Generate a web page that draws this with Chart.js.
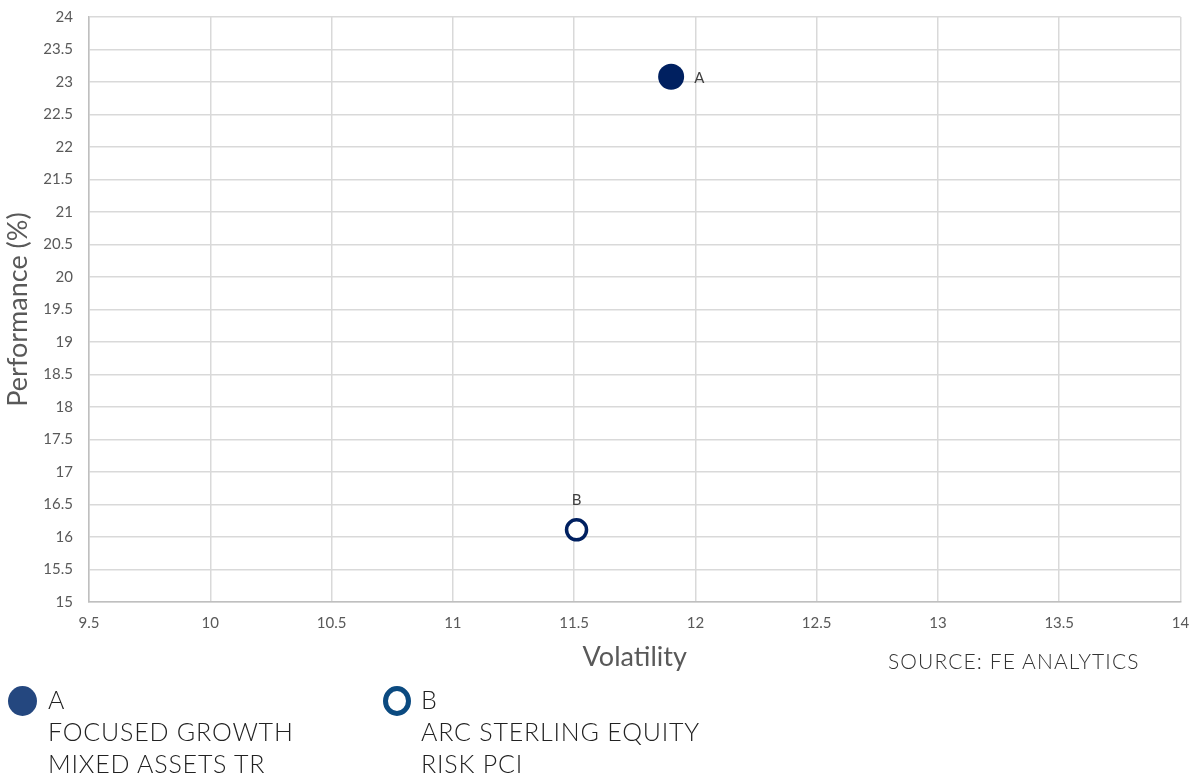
<!DOCTYPE html>
<html>
<head>
<meta charset="utf-8">
<script src="https://cdn.jsdelivr.net/npm/chart.js@4"></script>
<style>
  html, body { margin: 0; padding: 0; background: #fff; }
  body { width: 1194px; height: 776px; position: relative; overflow: hidden; font-family: Lato, "Open Sans", sans-serif; }
  #wrap { position: absolute; left: 0; top: 0; width: 1194px; height: 690px; }
  .source { position: absolute; left: 888px; top: 648px; font-size: 21px; font-weight: 300; letter-spacing: 1.1px; color: #333; }
  .leg { position: absolute; top: 683px; font-size: 25px; font-weight: 300; letter-spacing: 0.8px; color: #222; line-height: 32px; }
  .mark { position: absolute; top: 3px; width: 28px; height: 28px; border-radius: 50%; box-sizing: border-box; }
</style>
</head>
<body>
<div id="wrap"><canvas id="scatterChart"></canvas></div>
<div class="source">SOURCE: FE ANALYTICS</div>
<div class="leg" style="left:8px;">
  <div class="mark" style="left:0; background:#24477f; width:29px; height:30px;"></div>
  <div style="padding-left:40px;">A<br>FOCUSED GROWTH<br>MIXED ASSETS TR</div>
</div>
<div class="leg" style="left:383px;">
  <div class="mark" style="left:0; border:5px solid #0b4a80; background:#fff; width:28px; height:30px;"></div>
  <div style="padding-left:38px;">B<br>ARC STERLING EQUITY<br>RISK PCI</div>
</div>
<script>
// data
var labels = ['A', 'B'];
var volatility = [11.90, 11.51];
var performance = [23.08, 16.11];

var xMin = 9.5, xMax = 14, yMin = 15, yMax = 24, step = 0.5;

// point labels next to the markers
var pointLabels = {
    id: 'pointLabels',
    afterDatasetsDraw(chart) {
        var ctx = chart.ctx;
        ctx.save();
        ctx.font = '15px Lato, "Open Sans", sans-serif';
        ctx.fillStyle = '#404040';
        ctx.textBaseline = 'middle';
        chart.data.datasets.forEach((ds, i) => {
            var pt = chart.getDatasetMeta(i).data[0];
            if (ds.label === 'A') {
                ctx.textAlign = 'left';
                ctx.fillText(ds.label, pt.x + 23, pt.y + 1);
            } else {
                ctx.textAlign = 'center';
                ctx.fillText(ds.label, pt.x, pt.y - 30);
            }
        });
        ctx.restore();
    }
};

var fmt = (v) => String(Math.round(v * 10) / 10);
var tickFont = { family: 'Lato, "Open Sans", sans-serif', size: 15 };
var titleFont = { family: 'Lato, "Open Sans", sans-serif', size: 27 };

var ctx = document.getElementById('scatterChart').getContext('2d');
new Chart(ctx, {
    type: 'scatter',
    data: {
        datasets: [
            {
                label: labels[0],
                data: [{ x: volatility[0], y: performance[0] }],
                backgroundColor: '#002060',
                borderColor: '#002060',
                borderWidth: 0,
                pointRadius: 13
            },
            {
                label: labels[1],
                data: [{ x: volatility[1], y: performance[1] }],
                backgroundColor: '#ffffff',
                borderColor: '#002060',
                borderWidth: 3.5,
                pointRadius: 10
            }
        ]
    },
    options: {
        responsive: true,
        maintainAspectRatio: false,
        animation: false,
        layout: { padding: { top: 17, right: 8, left: 0, bottom: 0 } },
        plugins: {
            legend: { display: false },
            tooltip: { enabled: false }
        },
        scales: {
            x: {
                type: 'linear',
                min: xMin,
                max: xMax,
                afterFit: (s) => { s.height = 88; s.paddingLeft = 0; s.paddingRight = 0; },
                ticks: { stepSize: step, padding: 12, color: '#595959', font: tickFont, callback: fmt },
                grid: { color: '#d9d9d9', lineWidth: 1.5, drawTicks: false },
                border: { color: '#bfbfbf', width: 1.5 },
                title: {
                    display: true,
                    text: 'Volatility',
                    color: '#595959',
                    font: titleFont,
                    padding: { top: 0, bottom: 17 }
                }
            },
            y: {
                type: 'linear',
                min: yMin,
                max: yMax,
                afterFit: (s) => { s.width = 89; s.paddingTop = 0; s.paddingBottom = 0; },
                ticks: { stepSize: step, padding: 16, color: '#595959', font: tickFont, callback: fmt },
                grid: { color: '#d9d9d9', lineWidth: 1.5, drawTicks: false },
                border: { color: '#bfbfbf', width: 1.5 },
                title: {
                    display: true,
                    text: 'Performance (%)',
                    color: '#595959',
                    font: titleFont,
                    padding: { top: 2, bottom: 0 }
                }
            }
        }
    },
    plugins: [pointLabels]
});
</script>
</body>
</html>
